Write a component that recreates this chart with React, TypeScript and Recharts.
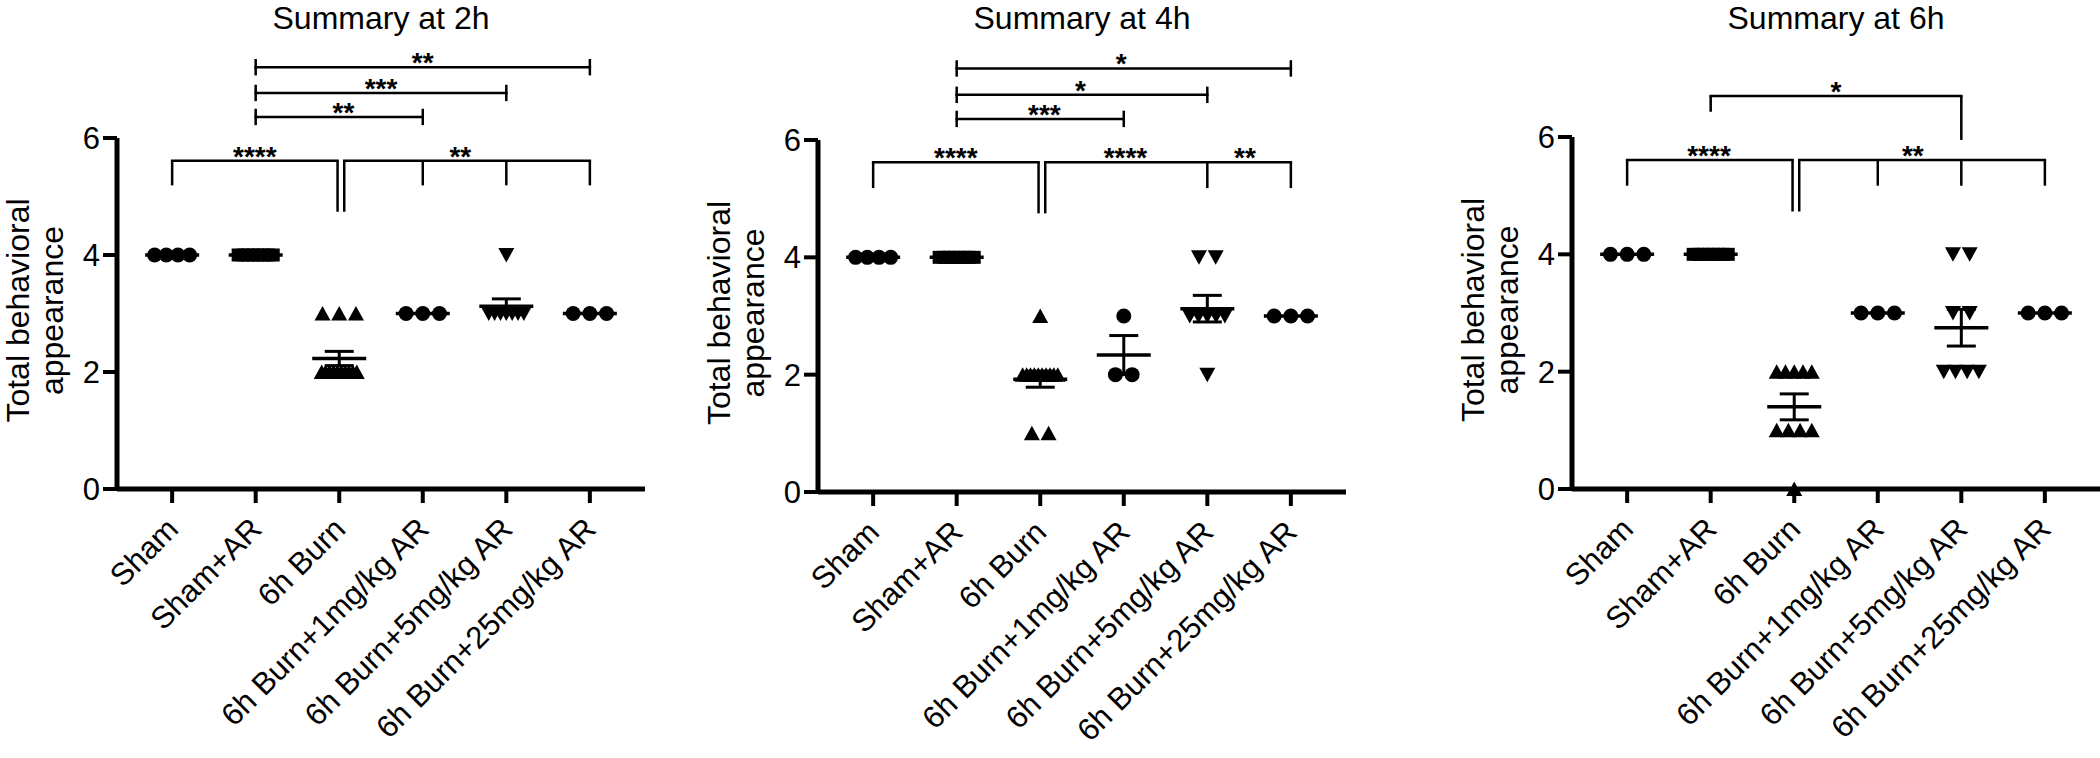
import React from "react";
import { ScatterChart, Scatter, XAxis, YAxis, ErrorBar, ReferenceLine, ReferenceDot } from "recharts";

const FONT = '"Liberation Sans", Arial, Helvetica, sans-serif';

const categories = [
  "Sham",
  "Sham+AR",
  "6h Burn",
  "6h Burn+1mg/kg AR",
  "6h Burn+5mg/kg AR",
  "6h Burn+25mg/kg AR",
];
const markers = ["circle", "square", "up", "circle", "down", "circle"];
const xTicks = [0, 1, 2, 3, 4, 5];
const yTicks = [0, 2, 4, 6];

// behavioural scores per animal, one list per group
const scores2h = [
  [4, 4, 4, 4],
  [4, 4, 4, 4, 4, 4, 4, 4],
  [3, 3, 3, 2, 2, 2, 2, 2, 2, 2, 2, 2, 2],
  [3, 3, 3],
  [4, 3, 3, 3, 3, 3, 3, 3],
  [3, 3, 3],
];
const scores4h = [
  [4, 4, 4, 4],
  [4, 4, 4, 4, 4, 4, 4, 4],
  [3, 2, 2, 2, 2, 2, 2, 2, 2, 2, 2, 1, 1],
  [3, 2, 2],
  [4, 4, 3, 3, 3, 3, 3, 2],
  [3, 3, 3],
];
const scores6h = [
  [4, 4, 4],
  [4, 4, 4, 4, 4, 4, 4, 4],
  [2, 2, 2, 2, 2, 1, 1, 1, 1, 0],
  [3, 3, 3],
  [4, 4, 3, 3, 2, 2, 2, 2],
  [3, 3, 3],
];

// significance brackets: horizontal line, legs [x, yTop, yBottom], labels [x, text]
type Bracket = { from: number; to: number; level: number; legs: number[][]; labels: [number, string][] };

const cap = (x: number, lv: number) => [x, lv + 0.14, lv - 0.14];

const brackets2h: Bracket[] = [
  { from: 1, to: 5, level: 7.21, legs: [cap(1, 7.21), cap(5, 7.21)], labels: [[3, "**"]] },
  { from: 1, to: 4, level: 6.77, legs: [cap(1, 6.77), cap(4, 6.77)], labels: [[2.5, "***"]] },
  { from: 1, to: 3, level: 6.36, legs: [cap(1, 6.36), cap(3, 6.36)], labels: [[2.05, "**"]] },
  { from: 0, to: 1.98, level: 5.61, legs: [[0, 5.61, 5.19], [1.98, 5.61, 4.74]], labels: [[0.99, "****"]] },
  {
    from: 2.06, to: 5, level: 5.61,
    legs: [[2.06, 5.61, 4.74], [3, 5.61, 5.19], [4, 5.61, 5.19], [5, 5.61, 5.19]],
    labels: [[3.45, "**"]],
  },
];
const brackets4h: Bracket[] = [
  { from: 1, to: 5, level: 7.22, legs: [cap(1, 7.22), cap(5, 7.22)], labels: [[2.97, "*"]] },
  { from: 1, to: 4, level: 6.77, legs: [cap(1, 6.77), cap(4, 6.77)], labels: [[2.48, "*"]] },
  { from: 1, to: 3, level: 6.36, legs: [cap(1, 6.36), cap(3, 6.36)], labels: [[2.05, "***"]] },
  { from: 0, to: 1.98, level: 5.62, legs: [[0, 5.62, 5.18], [1.98, 5.62, 4.75]], labels: [[0.99, "****"]] },
  {
    from: 2.06, to: 5, level: 5.62,
    legs: [[2.06, 5.62, 4.75], [4, 5.62, 5.18], [5, 5.62, 5.18]],
    labels: [[3.02, "****"], [4.45, "**"]],
  },
];
const brackets6h: Bracket[] = [
  { from: 1, to: 4, level: 6.7, legs: [[1, 6.7, 6.43], [4, 6.7, 5.95]], labels: [[2.5, "*"]] },
  { from: 0, to: 1.98, level: 5.61, legs: [[0, 5.61, 5.17], [1.98, 5.61, 4.73]], labels: [[0.98, "****"]] },
  {
    from: 2.06, to: 5, level: 5.61,
    legs: [[2.06, 5.61, 4.73], [3, 5.61, 5.17], [4, 5.61, 5.17], [5, 5.61, 5.17]],
    labels: [[3.42, "**"]],
  },
];

// spread equal values side by side, like a column scatter
function buildPoints(scores: number[][]) {
  const out: { x: number; y: number; g: number }[] = [];
  scores.forEach((vals, g) => {
    const distinct = Array.from(new Set(vals));
    distinct.forEach((v) => {
      const k = vals.filter((d) => d === v).length;
      const step = k > 1 ? Math.min(0.2, 0.42 / (k - 1)) : 0;
      for (let i = 0; i < k; i++) out.push({ x: g + (i - (k - 1) / 2) * step, y: v, g });
    });
  });
  return out;
}

function buildMeans(scores: number[][]) {
  return scores.map((vals, g) => {
    const n = vals.length;
    const mean = vals.reduce((a, b) => a + b, 0) / n;
    const sd = Math.sqrt(vals.reduce((a, b) => a + (b - mean) * (b - mean), 0) / (n - 1));
    return { x: g, y: mean, sem: sd / Math.sqrt(n) };
  });
}

const PointMark = (p: any) => {
  const { cx, cy, payload } = p;
  const m = markers[payload.g];
  if (m === "circle") return <circle cx={cx} cy={cy} r={7.5} fill="#000" />;
  if (m === "square") return <rect x={cx - 6.5} y={cy - 6.5} width={13} height={13} fill="#000" />;
  if (m === "up") return <path d={`M${cx},${cy - 7.5}L${cx + 8},${cy + 7}L${cx - 8},${cy + 7}Z`} fill="#000" />;
  return <path d={`M${cx},${cy + 7.5}L${cx + 8},${cy - 7}L${cx - 8},${cy - 7}Z`} fill="#000" />;
};

const MeanMark = (p: any) => (
  <line x1={p.cx - 27} x2={p.cx + 27} y1={p.cy} y2={p.cy} stroke="#000" strokeWidth={3.5} />
);

const CategoryTick = (p: any) => {
  const { x, y, payload } = p;
  const ax = x + 8;
  const ay = y + 26;
  return (
    <text x={ax} y={ay} transform={`rotate(-45, ${ax}, ${ay})`} textAnchor="end" fontSize={31} fontFamily={FONT} fill="#000">
      {categories[payload.value]}
    </text>
  );
};

const StarLabel = (p: any) => {
  const vb = p.viewBox || {};
  const cx = vb.x + (vb.width || 0) / 2;
  const cy = vb.y + (vb.height || 0) / 2;
  return (
    <text x={cx} y={cy + 5} textAnchor="middle" fontSize={28} fontWeight="bold" fontFamily={FONT} fill="#000">
      {p.value}
    </text>
  );
};

const YLabel = (p: any) => {
  const vb = p.viewBox;
  const x = vb.x + vb.width - 88;
  const cy = vb.y + vb.height / 2 - 3;
  return (
    <text x={x} y={cy} transform={`rotate(-90, ${x}, ${cy})`} textAnchor="middle" fontSize={32} fontFamily={FONT} fill="#000">
      <tspan x={x} dy={0}>Total behavioral</tspan>
      <tspan x={x} dy={34}>appearance</tspan>
    </text>
  );
};

const Y_AXIS_W = 125;
const PLOT_W = 528;

function Panel({ title, scores, brackets, axisX, yTop, yBottom }: {
  title: string; scores: number[][]; brackets: Bracket[]; axisX: number; yTop: number; yBottom: number;
}) {
  const points = buildPoints(scores);
  const means = buildMeans(scores);
  return (
    <>
      <div style={{
        position: "absolute", left: axisX + PLOT_W / 2 - 300, top: 0, width: 600, textAlign: "center",
        fontSize: 32, lineHeight: "normal", fontFamily: FONT, color: "#000",
      }}>{title}</div>
      <div style={{ position: "absolute", left: axisX - Y_AXIS_W, top: 0 }}>
        <ScatterChart width={Y_AXIS_W + PLOT_W + 5} height={758} margin={{ top: yTop, right: 5, bottom: 0, left: 0 }}>
          <XAxis
            type="number" dataKey="x" domain={[-0.66, 5.66]} ticks={xTicks} interval={0}
            height={758 - yBottom} tickSize={14} tick={<CategoryTick />}
            axisLine={{ stroke: "#000", strokeWidth: 5 }} tickLine={{ stroke: "#000", strokeWidth: 4 }}
          />
          <YAxis
            type="number" dataKey="y" domain={[0, 6]} ticks={yTicks} width={Y_AXIS_W} tickSize={14} tickMargin={3}
            tick={{ fontSize: 31, fill: "#000", fontFamily: FONT }}
            axisLine={{ stroke: "#000", strokeWidth: 5 }} tickLine={{ stroke: "#000", strokeWidth: 4 }}
            label={{ content: YLabel }}
          />
          {brackets.map((b, i) => (
            <React.Fragment key={i}>
              <ReferenceLine
                segment={[{ x: b.from, y: b.level }, { x: b.to, y: b.level }]}
                stroke="#000" strokeWidth={2.5} strokeLinecap="square" ifOverflow="visible"
              />
              {b.legs.map((l, j) => (
                <ReferenceLine
                  key={j}
                  segment={[{ x: l[0], y: l[1] }, { x: l[0], y: l[2] }]}
                  stroke="#000" strokeWidth={2.5} ifOverflow="visible"
                />
              ))}
              {b.labels.map((t, j) => (
                <ReferenceDot
                  key={"l" + j} x={t[0]} y={b.level} r={0} fill="none" stroke="none" ifOverflow="visible"
                  label={{ value: t[1], content: StarLabel }}
                />
              ))}
            </React.Fragment>
          ))}
          <Scatter data={points} shape={PointMark} isAnimationActive={false} />
          <Scatter data={means} shape={MeanMark} isAnimationActive={false}>
            <ErrorBar dataKey="sem" direction="y" width={14.5} stroke="#000" strokeWidth={3} isAnimationActive={false} />
          </Scatter>
        </ScatterChart>
      </div>
    </>
  );
}

export default function App() {
  return (
    <div style={{ position: "absolute", left: 0, top: 0, width: 2100, height: 758, overflow: "hidden", background: "#fff" }}>
      <Panel title="Summary at 2h" scores={scores2h} brackets={brackets2h} axisX={117} yTop={138} yBottom={489} />
      <Panel title="Summary at 4h" scores={scores4h} brackets={brackets4h} axisX={818} yTop={140} yBottom={492} />
      <Panel title="Summary at 6h" scores={scores6h} brackets={brackets6h} axisX={1572} yTop={137} yBottom={489} />
    </div>
  );
}
